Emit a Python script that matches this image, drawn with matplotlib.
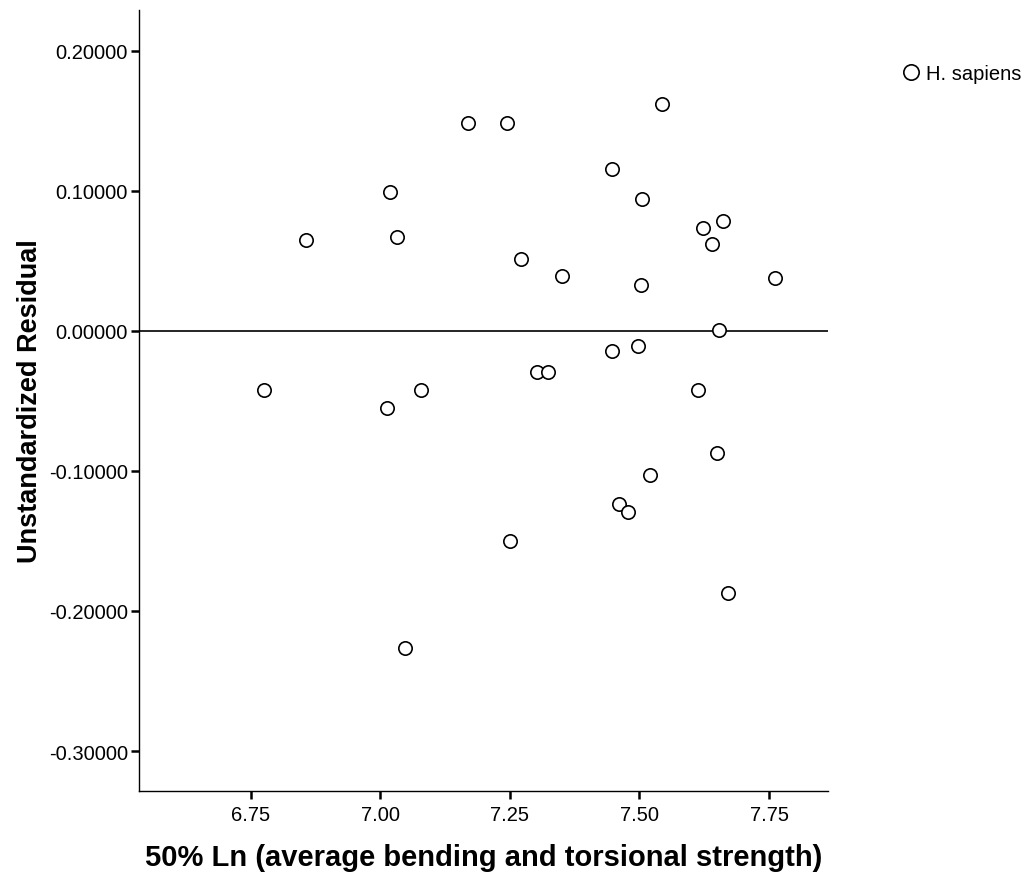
import numpy as np
import matplotlib
matplotlib.use("Agg")
import matplotlib.pyplot as plt

plt.rcParams['font.family'] = ['Liberation Sans', 'DejaVu Sans']

# 50% Ln (average bending and torsional strength) vs unstandardized residual
x_vals = [7.169, 7.244, 7.543, 7.447, 7.018, 7.505, 6.856, 7.032, 7.623, 7.661,
          7.640, 7.271, 7.350, 7.503, 7.762, 7.653, 7.447, 7.497, 7.302, 7.323,
          6.775, 7.078, 7.013, 7.613, 7.650, 7.520, 7.460, 7.478, 7.250, 7.671,
          7.047]
y_vals = [0.1482, 0.1482, 0.1618, 0.1155, 0.0991, 0.0941, 0.0649, 0.0670, 0.0734, 0.0784,
          0.0620, 0.0513, 0.0392, 0.0328, 0.0378, 0.0007, -0.0143, -0.0107, -0.0292, -0.0292,
          -0.0421, -0.0421, -0.0549, -0.0421, -0.0870, -0.1033, -0.1240, -0.1297, -0.1504, -0.1875,
          -0.2267]
x_ticks = [6.75, 7.00, 7.25, 7.50, 7.75]
y_ticks = [0.2, 0.1, 0.0, -0.1, -0.2, -0.3]
group_name = "H. sapiens"

fig = plt.figure(figsize=(10.24, 8.78), dpi=100)
ax = fig.add_axes([0.1357, 0.098, 0.673, 0.8895])

ax.plot(x_vals, y_vals, linestyle='none', marker='o', markersize=9.6,
        markerfacecolor='white', markeredgecolor='black', markeredgewidth=1.2,
        label=group_name, zorder=3)
ax.axhline(0, color='black', linewidth=1.2, zorder=2)

ax.set_xlim(6.534, 7.864)
ax.set_ylim(-0.3285, 0.229)
ax.set_xticks(x_ticks)
ax.set_xticklabels([f"{t:.2f}" for t in x_ticks])
ax.set_yticks(y_ticks)
ax.set_yticklabels([f"{t:.5f}" for t in y_ticks])

for s in ['top', 'right']:
    ax.spines[s].set_visible(False)
for s in ['left', 'bottom']:
    ax.spines[s].set_linewidth(1.0)
ax.tick_params(direction='out', length=6, width=1.8, pad=2)
ax.tick_params(axis='x', labelsize=14.5, pad=4)
ax.tick_params(axis='y', labelsize=14.5)

ax.set_xlabel("50% Ln (average bending and torsional strength)",
              fontsize=21, fontweight='bold', labelpad=14)
ax.set_ylabel("Unstandardized Residual", fontsize=19.5, fontweight='bold')
ax.yaxis.set_label_coords(-0.139, 0.5)

fig.legend(loc='upper left', bbox_to_anchor=(0.872, 0.9355), frameon=False,
           fontsize=14.5, handletextpad=0.25, borderaxespad=0, handlelength=1.0,
           markerscale=1.15)

fig.savefig("out.png", dpi=100)
